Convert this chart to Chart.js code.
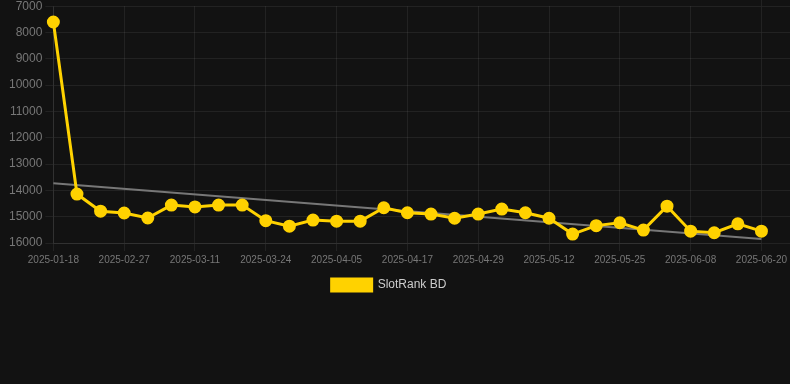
<!DOCTYPE html>
<html>
<head>
<meta charset="utf-8">
<script src="https://cdn.jsdelivr.net/npm/chart.js@4"></script>
<style>
    html, body {
        margin: 0;
        padding: 0;
        background: #121212;
        overflow: hidden;
    }
    #wrap {
        width: 790px;
        height: 305px;
        margin-top: -4px;
    }
</style>
</head>
<body>
<div id="wrap"><canvas id="chart"></canvas></div>
<script>
"use strict";

const dates = [
    "2025-01-18", "2025-02-19", "2025-02-23", "2025-02-27", "2025-03-03", "2025-03-07",
    "2025-03-11", "2025-03-15", "2025-03-19", "2025-03-24", "2025-03-28", "2025-04-01",
    "2025-04-05", "2025-04-09", "2025-04-13", "2025-04-17", "2025-04-21", "2025-04-25",
    "2025-04-29", "2025-05-03", "2025-05-07", "2025-05-12", "2025-05-16", "2025-05-20",
    "2025-05-25", "2025-05-29", "2025-06-03", "2025-06-08", "2025-06-12", "2025-06-16",
    "2025-06-20"
];

const rank = [
    7600, 14140, 14790, 14860, 15050, 14560, 14630, 14560, 14560, 15150, 15360,
    15130, 15170, 15170, 14660, 14850, 14900, 15060, 14900, 14710, 14850,
    15060, 15660, 15340, 15230, 15510, 14600, 15550, 15610, 15270, 15550
];

// trend line: only the two end values, spanGaps draws the line between them
const trend = dates.map(() => null);
trend[0] = 13730;
trend[trend.length - 1] = 15850;

const yTicks = [7000, 8000, 9000, 10000, 11000, 12000, 13000, 14000, 15000, 16000];

const yellow = "#ffd200";
const gridColor = "rgba(255,255,255,0.07)";
const tickColor = "#777777";

const chartContext = document.getElementById("chart");

// same rounding chart.js uses for 1px lines
function align(px) {
    return Math.round(px - 0.5) + 0.5;
}

// the grid in the picture runs on past the last point to the canvas edge
const gridRunout = {
    id: "gridRunout",
    beforeDatasetsDraw(chart) {
        const ctx = chart.ctx;
        const area = chart.chartArea;
        const y = chart.scales.y;
        ctx.save();
        ctx.strokeStyle = gridColor;
        ctx.lineWidth = 1;
        ctx.beginPath();
        yTicks.forEach((v) => {
            const py = align(y.getPixelForValue(v));
            ctx.moveTo(align(area.right) + 0.5, py);
            ctx.lineTo(chart.width, py);
        });
        const px = align(area.right);
        ctx.moveTo(px, 0);
        ctx.lineTo(px, align(area.top) - 0.5);
        ctx.stroke();
        ctx.restore();
    }
};

const myChart = new Chart(chartContext, {
    type: "line",
    data: {
        labels: dates,
        datasets: [
            {
                label: "SlotRank BD",
                data: rank,
                borderColor: yellow,
                backgroundColor: yellow,
                borderWidth: 3,
                pointRadius: 5,
                pointHoverRadius: 6,
                pointBackgroundColor: yellow,
                pointBorderColor: yellow,
                tension: 0
            },
            {
                label: "trend",
                data: trend,
                borderColor: "#777777",
                backgroundColor: "#777777",
                borderWidth: 2,
                pointRadius: 0,
                spanGaps: true,
                tension: 0
            }
        ]
    },
    options: {
        responsive: true,
        maintainAspectRatio: false,
        animation: false,
        layout: {
            padding: { left: 6, right: 18, top: 0, bottom: 0 }
        },
        scales: {
            x: {
                offset: false,
                grid: {
                    color: gridColor,
                    tickLength: 8
                },
                border: { color: gridColor },
                ticks: {
                    color: tickColor,
                    font: { size: 10 },
                    maxRotation: 0,
                    autoSkip: true,
                    maxTicksLimit: 11
                }
            },
            y: {
                reverse: true,
                min: 7000,
                max: 16000,
                afterBuildTicks: (axis) => {
                    axis.ticks = yTicks.map((v) => ({ value: v }));
                },
                grid: {
                    color: gridColor,
                    tickLength: 8
                },
                border: { color: gridColor },
                ticks: {
                    color: tickColor,
                    font: { size: 12 },
                    callback: (value) => String(value)
                }
            }
        },
        plugins: {
            legend: {
                position: "bottom",
                labels: {
                    color: "#cccccc",
                    font: { size: 12 },
                    boxWidth: 40,
                    filter: (item) => item.text !== "trend"
                }
            },
            tooltip: { enabled: false }
        }
    },
    plugins: [gridRunout]
});
</script>
</body>
</html>
